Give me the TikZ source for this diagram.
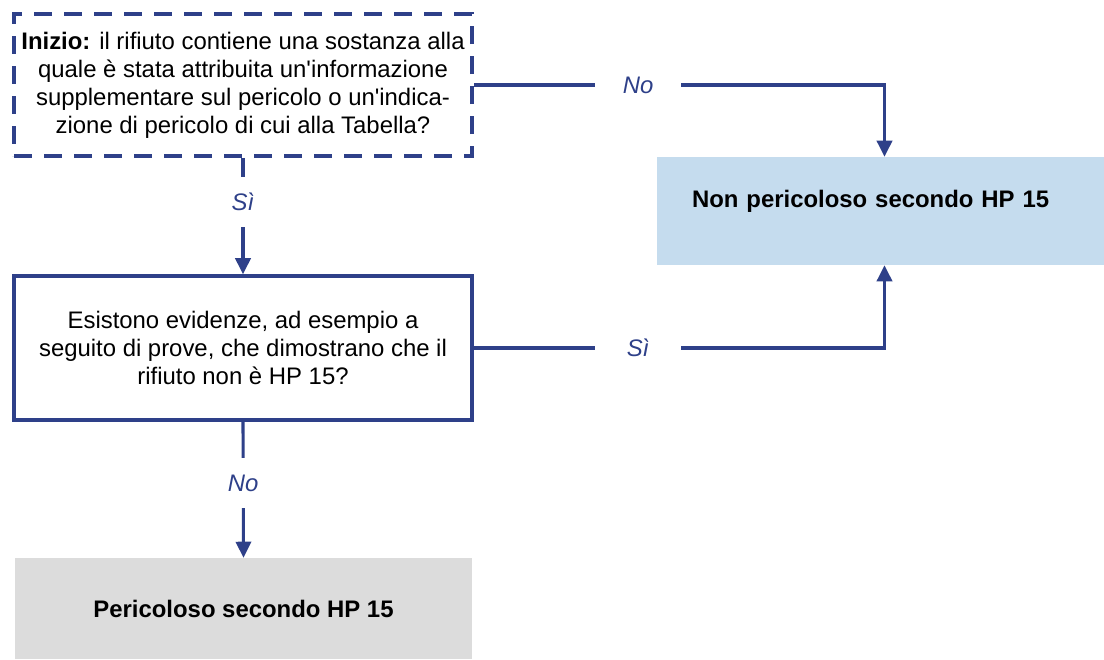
\documentclass[tikz,border=0pt]{standalone}
\usepackage{fontspec}
\setmainfont{Liberation Sans}
\usetikzlibrary{arrows.meta}
\definecolor{linea}{HTML}{2E4089}
\definecolor{azzurro}{HTML}{C5DCEE}
\definecolor{grigio}{HTML}{DCDCDC}
\tikzset{
  testo/.style={font=\fontsize{17}{20}\selectfont, align=center},
  domanda/.style={testo, draw=linea, line width=2.5pt, minimum width=11.45cm, minimum height=3.55cm, inner sep=0pt},
  esito/.style={testo, font=\fontsize{17}{20}\selectfont\bfseries, inner sep=0pt},
  freccia/.style={draw=linea, line width=2.2pt, -{Triangle[width=0.38cm,length=0.4cm]}},
  etichetta/.style={font=\fontsize{17}{20}\selectfont\itshape, text=linea, fill=white, minimum width=2.15cm, minimum height=1.25cm, inner sep=0pt}
}
\begin{document}
\begin{tikzpicture}
  \useasboundingbox (0,0) rectangle (27.6,-16.475);

  % Domande
  \node[domanda, dashed, dash pattern=on 0.45cm off 0.3cm] (inizio) at (6.075,-2.125)
    {\textbf{Inizio:} il rifiuto contiene una sostanza alla\\
     quale è stata attribuita un\textquotesingle informazione\\
     supplementare sul pericolo o un\textquotesingle indica-\\
     zione di pericolo di cui alla Tabella?};
  \node[domanda, minimum height=3.6cm] (prove) at (6.075,-8.7)
    {Esistono evidenze, ad esempio a\\
     seguito di prove, che dimostrano che il\\
     rifiuto non è HP 15?};

  % Esiti
  \node[esito, fill=azzurro, minimum height=2.7cm, text width=9.425cm, inner xsep=0.875cm,
        align=left, text depth=0.6cm] (nonpericoloso) at (22.0125,-5.275)
    {Non pericoloso secondo HP 15};
  \node[esito, fill=grigio, minimum width=11.425cm, minimum height=2.525cm] (pericoloso) at (6.0875,-15.2125)
    {Pericoloso secondo HP 15};

  % Frecce
  \draw[freccia] (inizio.south) -- node[etichetta, pos=0.38] (si1) {Sì} (prove.north);
  \draw[freccia] (prove.south) -- node[etichetta, pos=0.45] (no2) {No} (pericoloso.north);
  \draw[freccia] (inizio.east) -| node[etichetta, pos=0.2] (no1) {No} ([xshift=0.1cm]nonpericoloso.north);
  \draw[freccia] (prove.east) -| node[etichetta, pos=0.2] (si2) {Sì} ([xshift=0.1cm]nonpericoloso.south);
\end{tikzpicture}
\end{document}
